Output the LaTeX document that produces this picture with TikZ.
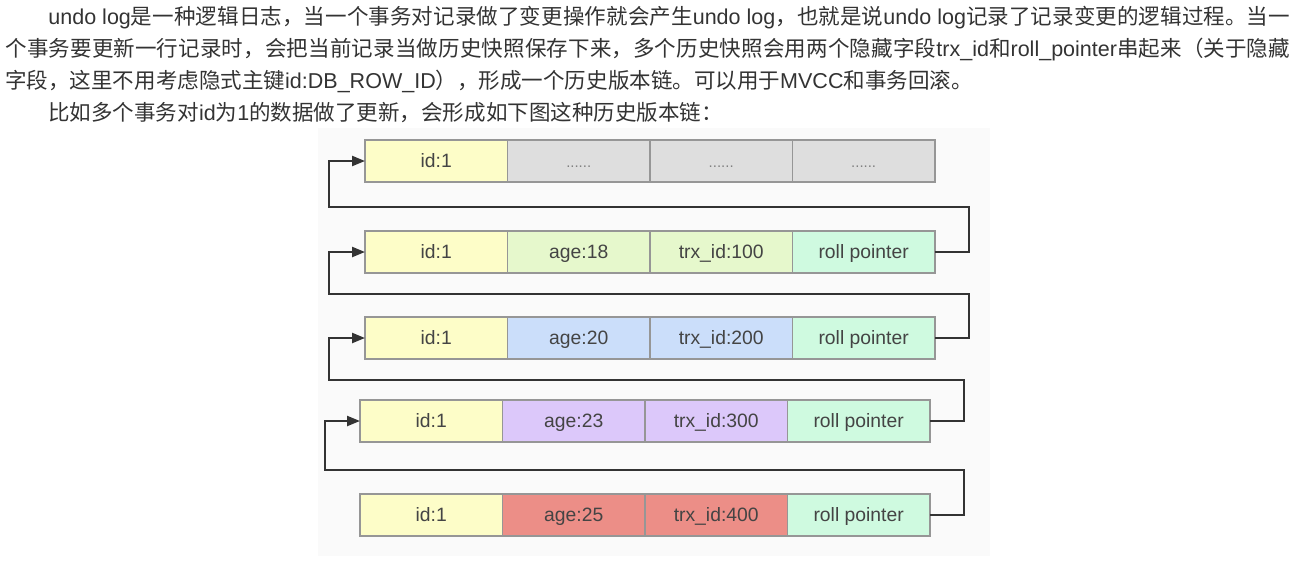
\documentclass[tikz,border=0pt]{standalone}
\usepackage{fontspec}
\setmainfont{Liberation Sans}
\newfontfamily\cjk{Noto Sans CJK SC}
\usetikzlibrary{positioning,arrows.meta}
\definecolor{ParaText}{RGB}{51,51,51}
\definecolor{CellText}{RGB}{68,68,68}
\definecolor{CellBorder}{RGB}{150,150,150}
\definecolor{LinkGray}{RGB}{51,51,51}
\definecolor{PanelGray}{RGB}{250,250,250}
\definecolor{IdYellow}{RGB}{253,253,200}
\definecolor{DotGray}{RGB}{222,222,222}
\definecolor{AgeGreen}{RGB}{230,248,204}
\definecolor{AgeBlue}{RGB}{203,222,250}
\definecolor{AgeLilac}{RGB}{220,200,250}
\definecolor{AgeRed}{RGB}{236,142,135}
\definecolor{PtrMint}{RGB}{207,250,224}
\XeTeXlinebreaklocale "zh"
\XeTeXlinebreakskip=0pt plus 4pt minus 0.3pt
\newcommand\enrun[1]{{\rmfamily #1}}
% one justified line of the given width
\newcommand\fullline[2]{\vbox{\hsize=#1\parindent=0pt\leftskip=0pt\rightskip=0pt\parfillskip=0pt\tolerance=10000\noindent #2\par}}

\begin{document}
\begin{tikzpicture}[x=0.02cm,y=-0.02cm,node distance=0pt,
  cell/.style={draw=CellBorder,line width=0.8pt,outer sep=0pt,inner sep=0pt,minimum width=2.85cm,minimum height=0.84cm,text height=0.78em,text depth=0.06em,text=CellText,font=\fontsize{11}{12}\selectfont},
  dots/.style={cell,fill=DotGray,font=\fontsize{8.5}{9}\selectfont,text=gray},
  link/.style={draw=LinkGray,line width=1.3pt,-{Triangle[length=2.6mm,width=2mm]}},
  para/.style={anchor=west,inner sep=0pt,text=ParaText,font=\cjk\fontsize{12.25}{14}\selectfont}]
\useasboundingbox (0,0) rectangle (1308,562);
\fill[PanelGray] (318,128) rectangle (990,556);

% text above the chain
\node[para] (p1) at (48,18) {\fullline{24.84cm}{\enrun{undo log}是一种逻辑日志，当一个事务对记录做了变更操作就会产生\enrun{undo log}，也就是说\enrun{undo log}记录了记录变更的逻辑过程。当一}};
\node[para] (p2) at (5,50) {\fullline{25.7cm}{个事务要更新一行记录时，会把当前记录当做历史快照保存下来，多个历史快照会用两个隐藏字段\enrun{trx\_id}和\enrun{roll\_pointer}串起来（关于隐藏}};
\node[para] (p3) at (5,81) {字段，这里不用考虑隐式主键\enrun{id:DB\_ROW\_ID}），形成一个历史版本链。可以用于\enrun{MVCC}和事务回滚。};
\node[para] (p4) at (48,113) {比如多个事务对\enrun{id}为\enrun{1}的数据做了更新，会形成如下图这种历史版本链：};

% version rows
\node[cell,fill=IdYellow,anchor=west] (r1a) at (365,161) {id:1};
\node[dots,right=of r1a] (r1b) {......};
\node[dots,right=of r1b] (r1c) {......};
\node[dots,right=of r1c] (r1d) {......};

\node[cell,fill=IdYellow,anchor=west] (r2a) at (365,252) {id:1};
\node[cell,fill=AgeGreen,right=of r2a] (r2b) {age:18};
\node[cell,fill=AgeGreen,right=of r2b] (r2c) {trx\_id:100};
\node[cell,fill=PtrMint,right=of r2c] (r2d) {roll pointer};

\node[cell,fill=IdYellow,anchor=west] (r3a) at (365,338) {id:1};
\node[cell,fill=AgeBlue,right=of r3a] (r3b) {age:20};
\node[cell,fill=AgeBlue,right=of r3b] (r3c) {trx\_id:200};
\node[cell,fill=PtrMint,right=of r3c] (r3d) {roll pointer};

\node[cell,fill=IdYellow,anchor=west] (r4a) at (360,421) {id:1};
\node[cell,fill=AgeLilac,right=of r4a] (r4b) {age:23};
\node[cell,fill=AgeLilac,right=of r4b] (r4c) {trx\_id:300};
\node[cell,fill=PtrMint,right=of r4c] (r4d) {roll pointer};

\node[cell,fill=IdYellow,anchor=west] (r5a) at (360,515) {id:1};
\node[cell,fill=AgeRed,right=of r5a] (r5b) {age:25};
\node[cell,fill=AgeRed,right=of r5b] (r5c) {trx\_id:400};
\node[cell,fill=PtrMint,right=of r5c] (r5d) {roll pointer};

% roll pointer links
\coordinate (g2) at (329,207);
\coordinate (g3) at (329,294);
\coordinate (g4) at (329,380);
\coordinate (g5) at (325,470);
\draw[link] (r2d.east) -- ++(34,0) |- (g2) |- (r1a.west);
\draw[link] (r3d.east) -- ++(34,0) |- (g3) |- (r2a.west);
\draw[link] (r4d.east) -- ++(34,0) |- (g4) |- (r3a.west);
\draw[link] (r5d.east) -- ++(34,0) |- (g5) |- (r4a.west);
\end{tikzpicture}
\end{document}
